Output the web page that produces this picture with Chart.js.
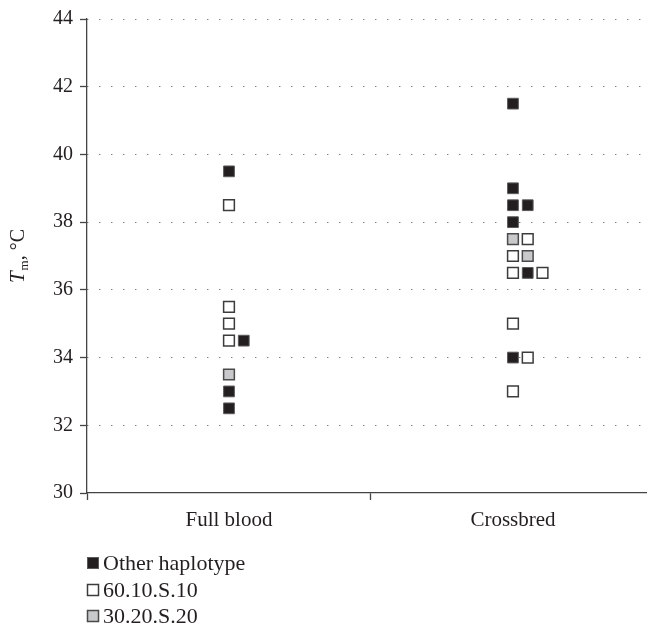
<!DOCTYPE html>
<html>
<head>
<meta charset="utf-8">
<script src="https://cdn.jsdelivr.net/npm/chart.js@4/dist/chart.umd.min.js"></script>
<style>
  html, body { margin: 0; padding: 0; background: #ffffff; }
  #wrap { width: 647px; height: 624px; }
</style>
</head>
<body>
<div id="wrap"><canvas id="c" width="647" height="624"></canvas></div>
<script>
// ---- Data ----
const categories = ['Full blood', 'Crossbred'];
const seriesNames = ['Other haplotype', '60.10.S.10', '30.20.S.20'];
const yTicks = [30, 32, 34, 36, 38, 40, 42, 44];

// Other haplotype (black squares)
const otherGroup = [0, 0, 0, 0, 1, 1, 1, 1, 1, 1, 1];
const otherTm    = [39.5, 34.5, 33.0, 32.5, 41.5, 39.0, 38.5, 38.5, 38.0, 36.5, 34.0];
const otherCol   = [0, 1, 0, 0, 0, 0, 0, 1, 0, 1, 0];

// 60.10.S.10 (white squares)
const h60Group = [0, 0, 0, 0, 1, 1, 1, 1, 1, 1, 1];
const h60Tm    = [38.5, 35.5, 35.0, 34.5, 37.5, 37.0, 36.5, 36.5, 35.0, 34.0, 33.0];
const h60Col   = [0, 0, 0, 0, 1, 0, 0, 2, 0, 1, 0];

// 30.20.S.20 (grey squares)
const h30Group = [0, 1, 1];
const h30Tm    = [33.5, 37.5, 37.0];
const h30Col   = [0, 0, 1];

// ---- Build points ----
const COL_STEP = 0.052;
function pts(g, v, c) {
  return v.map((y, i) => ({ x: g[i] + 0.5 + c[i] * COL_STEP, y: y }));
}

const SERIF = '"Liberation Serif", "Times New Roman", serif';
const TXT = '#231f20';

const styles = [
  { bg: '#231f20', border: '#5a5a5a', bw: 1 },
  { bg: '#ffffff', border: '#3c3c3c', bw: 1.5 },
  { bg: '#c8c9cb', border: '#4a4a4a', bw: 1.5 }
];

const datasets = [
  { label: seriesNames[0], data: pts(otherGroup, otherTm, otherCol) },
  { label: seriesNames[1], data: pts(h60Group, h60Tm, h60Col) },
  { label: seriesNames[2], data: pts(h30Group, h30Tm, h30Col) }
].map((d, i) => Object.assign(d, {
  pointStyle: 'rect',
  pointRadius: 7.6,
  pointHoverRadius: 7.6,
  backgroundColor: styles[i].bg,
  borderColor: styles[i].border,
  pointBorderWidth: styles[i].bw,
  borderWidth: styles[i].bw
}));

// Y-axis title: italic T with subscript m
const yTitlePlugin = {
  id: 'yTitle',
  afterDraw(chart) {
    const ctx = chart.ctx;
    const ca = chart.chartArea;
    const cy = (ca.top + ca.bottom) / 2;
    ctx.save();
    ctx.translate(24, cy);
    ctx.rotate(-Math.PI / 2);
    ctx.fillStyle = TXT;
    ctx.textBaseline = 'alphabetic';
    const f1 = 'italic 21px ' + SERIF;
    const f2 = '13px ' + SERIF;
    const f3 = '20px ' + SERIF;
    ctx.font = f1; const w1 = ctx.measureText('T').width;
    ctx.font = f2; const w2 = ctx.measureText('m').width;
    ctx.font = f3; const w3 = ctx.measureText(', °C').width;
    let x = -(w1 + w2 + 1 + w3) / 2;
    ctx.font = f1; ctx.fillText('T', x, 0); x += w1 + 1;
    ctx.font = f2; ctx.fillText('m', x, 4); x += w2;
    ctx.font = f3; ctx.fillText(', °C', x, 0);
    ctx.restore();
  }
};

// Vertical legend under the plot, left-aligned with the y axis
const legendPlugin = {
  id: 'vLegend',
  afterDraw(chart) {
    const ctx = chart.ctx;
    const left = chart.chartArea.left;
    const rowY = [563, 590, 616];
    ctx.save();
    chart.data.datasets.forEach((ds, i) => {
      const y = rowY[i];
      ctx.fillStyle = ds.backgroundColor;
      ctx.fillRect(left + 0.5, y - 5.5, 11, 11);
      ctx.lineWidth = ds.borderWidth;
      ctx.strokeStyle = ds.borderColor;
      ctx.strokeRect(left + 0.5, y - 5.5, 11, 11);
      ctx.fillStyle = TXT;
      ctx.font = '22px ' + SERIF;
      ctx.textBaseline = 'middle';
      ctx.fillText(ds.label, left + 16, y + 1);
    });
    ctx.restore();
  }
};

new Chart(document.getElementById('c'), {
  type: 'scatter',
  data: { datasets: datasets },
  plugins: [yTitlePlugin, legendPlugin],
  options: {
    responsive: false,
    animation: false,
    devicePixelRatio: 1,
    layout: { autoPadding: false, padding: { top: 18, right: 0, bottom: 91, left: 0 } },
    plugins: {
      legend: { display: false },
      tooltip: { enabled: false }
    },
    scales: {
      x: {
        type: 'linear',
        min: 0,
        max: 1.972,
        afterBuildTicks(scale) {
          scale.ticks = [0, 0.5, 1, 1.5].map(v => ({ value: v }));
        },
        afterFit(scale) { scale.height = 40; },
        ticks: {
          autoSkip: false,
          maxRotation: 0,
          padding: 8,
          color: TXT,
          font: { family: SERIF, size: 21 },
          callback: (v) => (v === 0.5 ? categories[0] : (v === 1.5 ? categories[1] : ''))
        },
        grid: {
          drawOnChartArea: false,
          drawTicks: true,
          tickLength: 7,
          tickWidth: 1.3,
          tickColor: (ctx) => (ctx.tick && Number.isInteger(ctx.tick.value) ? '#444444' : 'rgba(0,0,0,0)')
        },
        border: { display: true, color: '#444444', width: 1.3 }
      },
      y: {
        type: 'linear',
        min: 30,
        max: 44,
        afterBuildTicks(scale) {
          scale.ticks = yTicks.map(v => ({ value: v }));
        },
        afterFit(scale) { scale.width = 87; },
        ticks: {
          padding: 7,
          color: TXT,
          font: { family: SERIF, size: 20 }
        },
        grid: {
          drawOnChartArea: true,
          color: (ctx) => (ctx.tick && ctx.tick.value === 30 ? 'rgba(0,0,0,0)' : '#4a4a4a'),
          lineWidth: 1,
          drawTicks: true,
          tickLength: 7,
          tickWidth: 1.3,
          tickColor: '#444444'
        },
        border: { display: true, color: '#444444', width: 1.3, dash: [1, 11], dashOffset: 0 }
      }
    }
  }
});
</script>
</body>
</html>
